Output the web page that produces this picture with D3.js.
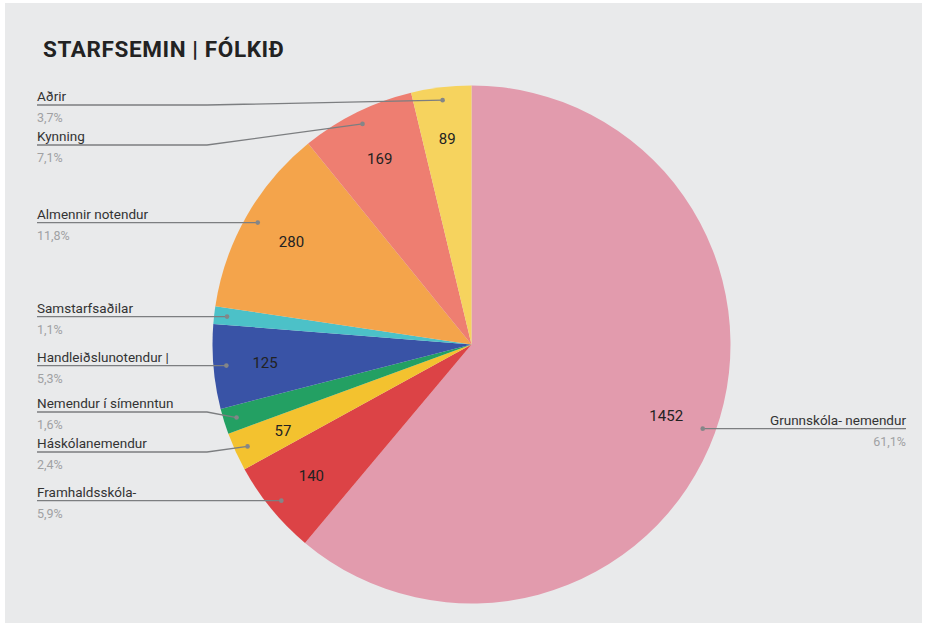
<!DOCTYPE html>
<html>
<head>
<meta charset="utf-8">
<script src="https://cdn.jsdelivr.net/npm/d3@7"></script>
<style>
  body { margin: 0; background: #fff; }
  text { font-family: Roboto, "Noto Sans", sans-serif; }
</style>
</head>
<body>
<div id="my_dataviz"></div>
<script>
// data, in drawing order (clockwise from 12 o'clock)
const categories = ["Grunnskóla- nemendur", "Framhaldsskóla-", "Háskólanemendur", "Nemendur í símenntun",
  "Handleiðslunotendur |", "Samstarfsaðilar", "Almennir notendur", "Kynning", "Aðrir"];
const values = [1452, 140, 57, 38, 125, 26, 280, 169, 89];
const percentLabels = ["61,1%", "5,9%", "2,4%", "1,6%", "5,3%", "1,1%", "11,8%", "7,1%", "3,7%"];
const showValue = [true, true, true, false, true, false, true, true, true];
const colors = ["#e29bad", "#dc4346", "#f3c22f", "#23a063", "#3953a6", "#4cc1c8", "#f4a44b", "#ee7e71", "#f6d35e"];

const width = 927, height = 628;
const cx = 471.5, cy = 344.5, radius = 259;

const svg = d3.select("#my_dataviz")
  .append("svg")
    .attr("width", width)
    .attr("height", height);

// background
svg.append("rect")
  .attr("x", 5).attr("y", 3)
  .attr("width", width - 10).attr("height", height - 8)
  .attr("fill", "#e9eaeb");

// title
svg.append("text")
  .attr("x", 43)
  .attr("y", 57)
  .style("font-size", "22.5px")
  .style("font-weight", "bold")
  .style("letter-spacing", "0.6px")
  .attr("fill", "#222")
  .text("STARFSEMIN | FÓLKIÐ");

const pie = d3.pie().sort(null).value(d => d.value);
const data = categories.map((c, i) => ({name: c, value: values[i], pct: percentLabels[i], color: colors[i], show: showValue[i]}));
const arcs = pie(data);

const g = svg.append("g").attr("transform", `translate(${cx},${cy})`);

const arc = d3.arc().innerRadius(0).outerRadius(radius);
g.selectAll("path.slice")
  .data(arcs)
  .join("path")
    .attr("class", "slice")
    .attr("d", arc)
    .attr("fill", d => d.data.color);

// values inside slices
const labelArc = d3.arc().innerRadius(radius * 0.8).outerRadius(radius * 0.8);
g.selectAll("text.val")
  .data(arcs.filter(d => d.data.show))
  .join("text")
    .attr("class", "val")
    .attr("transform", d => `translate(${labelArc.centroid(d)})`)
    .attr("text-anchor", "middle")
    .attr("dy", "0.35em")
    .style("font-size", "15px")
    .attr("fill", "#222")
    .text(d => d.data.value);

// leader dots at 0.95 R
const dotArc = d3.arc().innerRadius(radius * 0.95).outerRadius(radius * 0.95);
arcs.forEach(d => {
  const c = dotArc.centroid(d);
  d.dot = [cx + c[0], cy + c[1]];
  d.left = c[0] < 0;
  d.ly = d.dot[1];
});

// simple collision avoidance for left labels
const left = arcs.filter(d => d.left).sort((a, b) => a.ly - b.ly);
const gap = 40, minY = 105;
for (let it = 0; it < 200; it++) {
  for (let i = 0; i < left.length - 1; i++) {
    const a = left[i], b = left[i + 1];
    const diff = b.ly - a.ly;
    if (diff < gap) {
      const push = (gap - diff) / 2;
      a.ly -= push; b.ly += push;
    }
  }
  left.forEach(d => { if (d.ly < minY) d.ly = minY; });
}

const lx = 37, bendX = 207, rx = 906;
const line = d3.line();

arcs.forEach(d => {
  let pts, tx, anchor;
  if (d.left) {
    pts = [[lx, d.ly], [bendX, d.ly], d.dot];
    tx = lx; anchor = "start";
  } else {
    pts = [[rx, d.ly], d.dot];
    tx = rx; anchor = "end";
  }
  svg.append("path")
    .attr("d", line(pts))
    .attr("fill", "none")
    .attr("stroke", "#7c7e80")
    .attr("stroke-width", 1.3);
  svg.append("circle")
    .attr("cx", d.dot[0]).attr("cy", d.dot[1])
    .attr("r", 2.3)
    .attr("fill", "#848688");
  svg.append("text")
    .attr("x", tx).attr("y", d.ly - 4)
    .attr("text-anchor", anchor)
    .style("font-size", "13.5px")
    .attr("fill", "#333")
    .text(d.data.name);
  svg.append("text")
    .attr("x", tx).attr("y", d.ly + 17)
    .attr("text-anchor", anchor)
    .style("font-size", "12.5px")
    .attr("fill", "#a0a1a3")
    .text(d.data.pct);
});
</script>
</body>
</html>
